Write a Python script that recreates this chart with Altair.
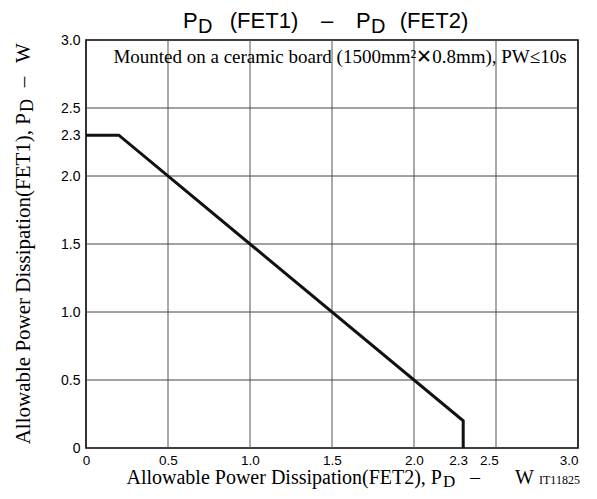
import altair as alt
import pandas as pd

# Curve: P_D(FET2) on x, P_D(FET1) on y
fet2 = [0.0, 0.2, 2.3, 2.3]
fet1 = [2.3, 2.3, 0.2, 0.0]
order = [0, 1, 2, 3]

grid_vals = [0.5, 1.0, 1.5, 2.0, 2.5]
tick_vals = [0, 0.5, 1.0, 1.5, 2.0, 2.3, 2.5, 3.0]

curve = pd.DataFrame({"fet2": fet2, "fet1": fet1, "i": order})
grid = pd.DataFrame({"v": grid_vals})

W, H = 492, 408
SANS = "Liberation Sans"
SERIF = "Liberation Serif"

xs = alt.Scale(domain=[0, 3], nice=False, zero=False)
ys = alt.Scale(domain=[0, 3], nice=False, zero=False)
lab = "datum.value == 0 ? '0' : format(datum.value, '.1f')"

x_axis = alt.Axis(
    values=tick_vals, labelExpr=lab, grid=False, ticks=False, domain=False,
    labelFont=SANS, labelFontSize=13.5, labelColor="black", labelPadding=5,
    labelFlush=False, title=None,
    labelAlign={"condition": {"test": "datum.value >= 3", "value": "right"}, "value": "center"},
    labelOffset={"condition": [
        {"test": "datum.value == 2.3", "value": -5},
        {"test": "datum.value == 2.5", "value": -7},
    ], "value": 0},
)
y_axis = alt.Axis(values=tick_vals, labelExpr=lab, grid=False, ticks=False, domain=False,
                  labelFont=SANS, labelFontSize=14, labelColor="black", labelPadding=6,
                  labelBaseline="middle", title=None)

vgrid = alt.Chart(grid).mark_rule(color="#555555", strokeWidth=1).encode(
    x=alt.X("v:Q", scale=xs, axis=x_axis))
hgrid = alt.Chart(grid).mark_rule(color="#444444", strokeWidth=1).encode(
    y=alt.Y("v:Q", scale=ys, axis=y_axis))

line = alt.Chart(curve).mark_line(color="#111111", strokeWidth=3, strokeJoin="miter").encode(
    x=alt.X("fet2:Q", scale=xs),
    y=alt.Y("fet1:Q", scale=ys),
    order=alt.Order("i:Q"),
)

one = alt.Data(values=[{"a": 1}])


def txt(s, x, y, font=SANS, size=14, align="left", angle=0, baseline="alphabetic"):
    kw = dict(font=font, fontSize=size, align=align, baseline=baseline, color="black")
    if angle:
        kw["angle"] = angle
    return alt.Chart(one).mark_text(**kw).encode(
        x=alt.value(x), y=alt.value(y), text=alt.value(s))


texts = [
    # title  P_D (FET1) – P_D (FET2)
    txt("P", 97, -12, size=22),
    txt("D", 112, -7, size=20),
    txt("(FET1)", 178, -12, size=22, align="center"),
    txt("–", 241, -12, size=22, align="center"),
    txt("P", 270, -12, size=22),
    txt("D", 285, -7, size=20),
    txt("(FET2)", 348, -12, size=22, align="center"),
    # condition note
    txt("Mounted on a ceramic board (1500mm²✕0.8mm), PW≤10s", 254, 23, font=SERIF, size=19,
        align="center"),
    # x title
    txt("Allowable Power Dissipation(FET2), P", 356, 444, font=SERIF, size=20, align="right"),
    txt("D", 357, 447, font=SERIF, size=17),
    txt("–", 389, 444, font=SERIF, size=20, align="center"),
    txt("W", 429, 444, font=SERIF, size=20),
    txt("IT11825", 453, 444, font=SERIF, size=12),
    # y title (rotated)
    txt("Allowable Power Dissipation(FET1), P", -56, 73, font=SERIF, size=21, align="right", angle=270),
    txt("D", -53, 72, font=SERIF, size=18, angle=270),
    txt("–", -56, 42, font=SERIF, size=21, align="center", angle=270),
    txt("W", -56, 23, font=SERIF, size=21, angle=270),
]

chart = alt.layer(vgrid, hgrid, line, *texts).properties(
    width=W, height=H,
    autosize=alt.AutoSizeParams(type="none"),
    padding={"left": 78, "top": 32, "right": 11, "bottom": 42},
    background="white",
).configure_view(stroke="black", strokeWidth=1.6)

chart.save("out.html", embed_options={"renderer": "svg", "actions": False})
